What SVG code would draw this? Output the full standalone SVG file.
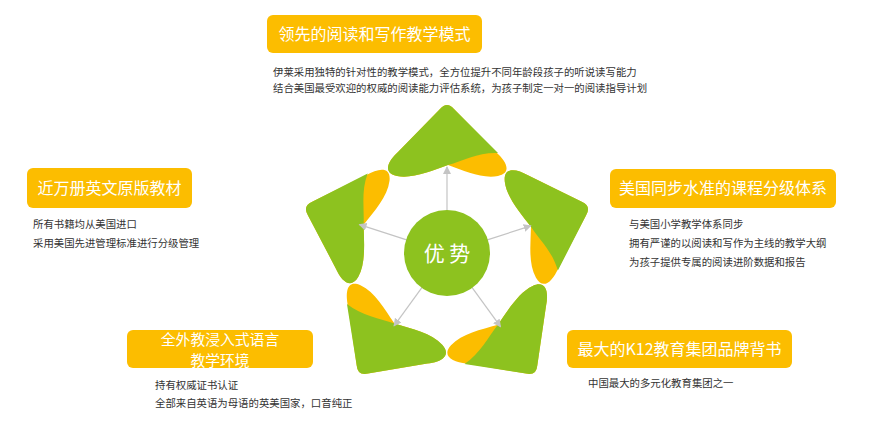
<svg xmlns="http://www.w3.org/2000/svg" xmlns:xlink="http://www.w3.org/1999/xlink" width="872" height="424" viewBox="0 0 872 424">
<style>
.box{fill:#fcbd00}
.title{font-family:"Noto Sans CJK SC","Noto Sans",sans-serif;font-size:16px;fill:#ffffff}
.title2{font-family:"Noto Sans CJK SC","Noto Sans",sans-serif;font-size:14.8px;fill:#ffffff}
.desc{font-family:"Noto Sans CJK SC","Noto Sans",sans-serif;font-size:10.4px;fill:#333333}
.green{fill:#8dc21f}
.orange{fill:#fcbd00}
.conn{stroke:#c4c4c4;stroke-width:1.2;fill:none}
</style>
<defs>
<marker id="ah" markerWidth="8" markerHeight="8" refX="7" refY="4" orient="auto" markerUnits="userSpaceOnUse">
<path d="M0,0 L8,4 L0,8 Z" fill="#c4c4c4"/>
</marker>
<g id="petal">
<path class="orange" d="M -7,-144 Q 0,-152 7,-144 L 49,-101 C 60,-91 65,-80 51,-77 C 35,-74 18,-82 1,-88 C -16,-82 -35,-74 -50,-77 C -64,-80 -60,-91 -49,-101 Z"/>
<path class="green" d="M -7,-144 Q 0,-152 7,-144 L 51,-100 C 32,-101 16,-92 1,-88 C -16,-82 -35,-74 -50,-77 C -64,-80 -60,-91 -49,-101 Z"/>
</g>
</defs>
<rect width="872" height="424" fill="#ffffff"/>

<g id="petals">
<use id="petal-top" xlink:href="#petal" transform="translate(447,253)"/>
<use id="petal-right" xlink:href="#petal" transform="translate(447,253) rotate(72)"/>
<use id="petal-bottom-right" xlink:href="#petal" transform="translate(447,253) rotate(144)"/>
<use id="petal-bottom-left" xlink:href="#petal" transform="translate(447,253) rotate(216)"/>
<use id="petal-left" xlink:href="#petal" transform="translate(447,253) rotate(288)"/>
</g>

<g id="connectors">
<line class="conn" x1="0" y1="-40" x2="0" y2="-86" marker-end="url(#ah)" transform="translate(447,253)"/>
<line class="conn" x1="0" y1="-40" x2="0" y2="-88" marker-end="url(#ah)" transform="translate(447,253) rotate(72)"/>
<line class="conn" x1="0" y1="-40" x2="0" y2="-91" marker-end="url(#ah)" transform="translate(447,253) rotate(144)"/>
<line class="conn" x1="0" y1="-40" x2="0" y2="-90" marker-end="url(#ah)" transform="translate(447,253) rotate(216)"/>
<line class="conn" x1="0" y1="-40" x2="0" y2="-92" marker-end="url(#ah)" transform="translate(447,253) rotate(288)"/>
</g>

<g id="center">
<circle cx="447" cy="253" r="43" class="green"/>
<text x="447" y="261" text-anchor="middle" font-family="'Noto Sans CJK SC','Noto Sans',sans-serif" font-size="21" fill="#ffffff">优 势</text>
</g>

<g id="node-top">
<rect class="box" x="267" y="15" width="215" height="38" rx="6"/>
<text class="title" x="374.5" y="40" text-anchor="middle">领先的阅读和写作教学模式</text>
<text class="desc" x="273" y="76">伊莱采用独特的针对性的教学模式，全方位提升不同年龄段孩子的听说读写能力</text>
<text class="desc" x="273" y="92">结合美国最受欢迎的权威的阅读能力评估系统，为孩子制定一对一的阅读指导计划</text>
</g>

<g id="node-left">
<rect class="box" x="27" y="168" width="165" height="40" rx="6"/>
<text class="title" x="109.5" y="194" text-anchor="middle">近万册英文原版教材</text>
<text class="desc" x="33" y="228">所有书籍均从美国进口</text>
<text class="desc" x="33" y="247">采用美国先进管理标准进行分级管理</text>
</g>

<g id="node-right">
<rect class="box" x="610" y="169" width="226" height="39" rx="6"/>
<text class="title" x="723" y="194" text-anchor="middle">美国同步水准的课程分级体系</text>
<text class="desc" x="629" y="228">与美国小学教学体系同步</text>
<text class="desc" x="629" y="247">拥有严谨的以阅读和写作为主线的教学大纲</text>
<text class="desc" x="629" y="266">为孩子提供专属的阅读进阶数据和报告</text>
</g>

<g id="node-bottom-left">
<rect class="box" x="127" y="330" width="186" height="38" rx="6"/>
<text class="title2" text-anchor="middle"><tspan x="220" y="344.5">全外教浸入式语言</tspan><tspan x="220" y="366">教学环境</tspan></text>
<text class="desc" x="155" y="389">持有权威证书认证</text>
<text class="desc" x="155" y="407">全部来自英语为母语的英美国家，口音纯正</text>
</g>

<g id="node-bottom-right">
<rect class="box" x="567" y="330" width="225" height="38" rx="6"/>
<text class="title" x="679.5" y="355" text-anchor="middle">最大的K12教育集团品牌背书</text>
<text class="desc" x="588" y="387">中国最大的多元化教育集团之一</text>
</g>
</svg>
